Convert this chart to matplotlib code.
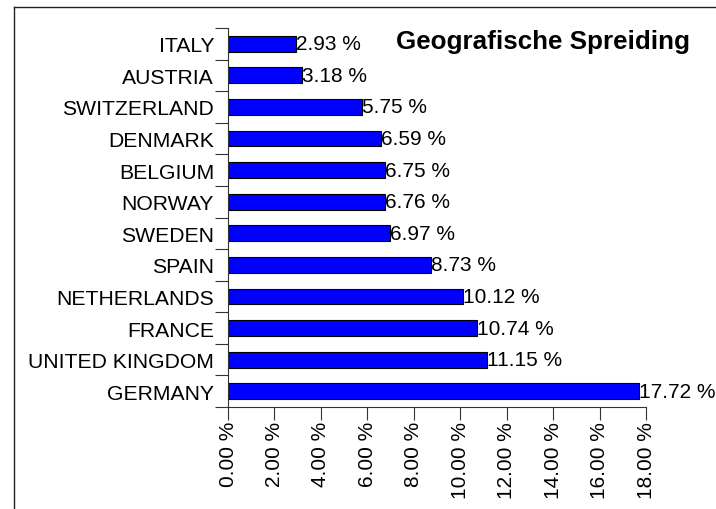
import matplotlib.pyplot as plt
from matplotlib.lines import Line2D

plt.rcParams['font.family'] = ['Liberation Sans', 'DejaVu Sans']

countries = ["ITALY", "AUSTRIA", "SWITZERLAND", "DENMARK", "BELGIUM", "NORWAY",
             "SWEDEN", "SPAIN", "NETHERLANDS", "FRANCE", "UNITED KINGDOM", "GERMANY"]
shares = [2.93, 3.18, 5.75, 6.59, 6.75, 6.76, 6.97, 8.73, 10.12, 10.74, 11.15, 17.72]
xticks = [0, 2, 4, 6, 8, 10, 12, 14, 16, 18]
title = "Geografische Spreiding"

fig = plt.figure(figsize=(7.16, 5.10), dpi=100)
ax = fig.add_axes([228 / 716, 102 / 510, 418 / 716, 379 / 510])

pos = list(range(len(countries)))
ax.barh(pos, shares, height=0.5, color='#0000FF', edgecolor='black', linewidth=0.8)
for y, v in zip(pos, shares):
    ax.text(v, y, f"{v:.2f} %", ha='left', va='center', fontsize=15)

ax.set_xlim(0, 18)
ax.set_ylim(len(countries) - 0.5, -0.5)
ax.set_xticks(xticks)
ax.set_xticklabels([f"{t:.2f} %" for t in xticks], rotation=90, fontsize=15)
ax.set_yticks(pos)
ax.set_yticklabels(countries, fontsize=15.2)
ax.set_yticks([p - 0.5 for p in pos] + [len(countries) - 0.5], minor=True)
ax.tick_params(axis='y', which='major', length=0, pad=10)
ax.tick_params(axis='y', which='minor', length=9.5, width=0.8, color='#333333')
ax.tick_params(axis='x', length=9, width=0.8, pad=1, color='#333333')
for s in ['top', 'right']:
    ax.spines[s].set_visible(False)
for s in ['left', 'bottom']:
    ax.spines[s].set_linewidth(0.8)
    ax.spines[s].set_color('#333333')

fig.text(690 / 716, 1 - 42 / 510, title, ha='right', va='center',
         fontsize=18.7, fontweight='bold')

# outer frame (left and top edges)
fig.add_artist(Line2D([14 / 716, 14 / 716], [0, 1 - 8 / 510], color='#222222', lw=1))
fig.add_artist(Line2D([14 / 716, 1], [1 - 8 / 510, 1 - 8 / 510], color='#222222', lw=1))

fig.savefig("out.png", dpi=100)
